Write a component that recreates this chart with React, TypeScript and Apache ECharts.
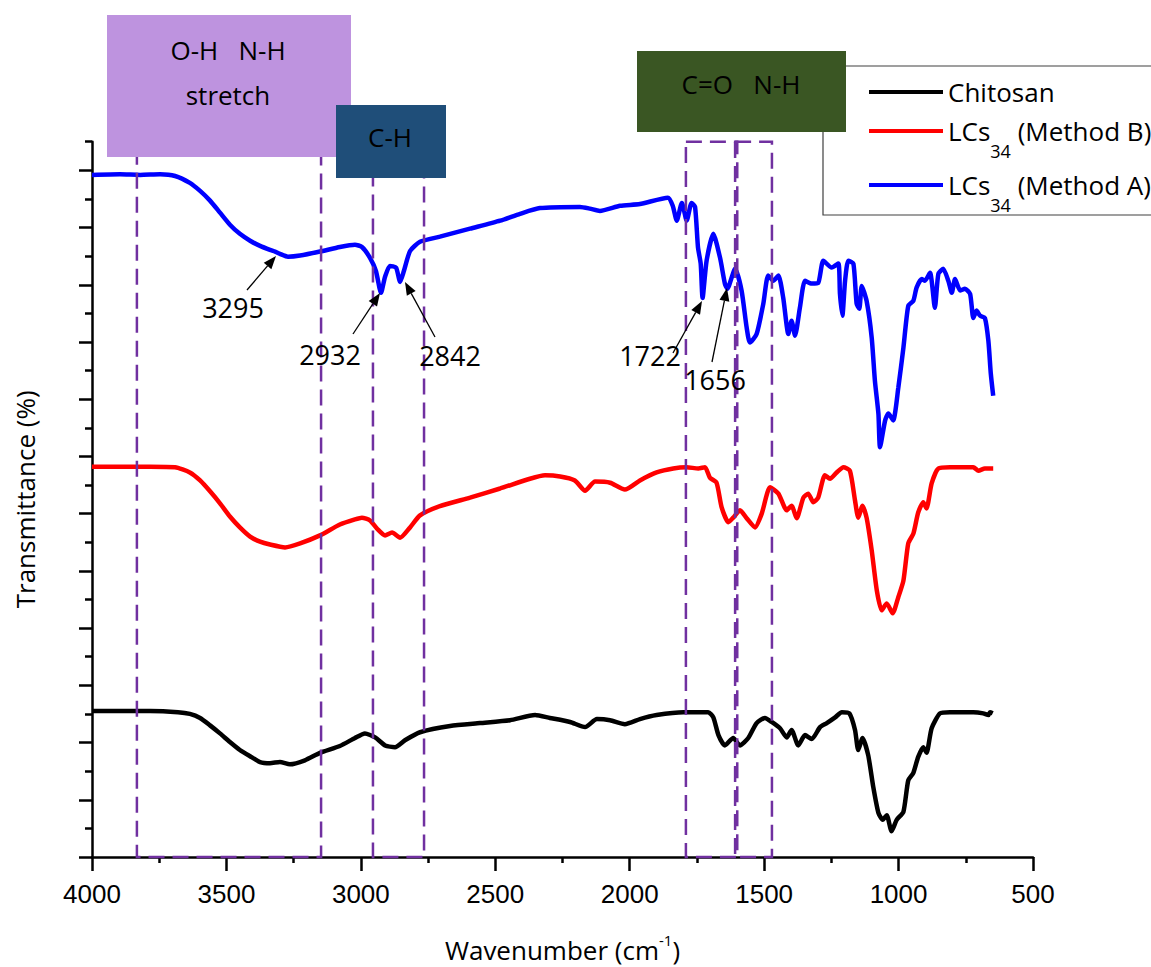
import React, { useEffect, useRef } from 'react';
import * as echarts from 'echarts';

// ---------------- DATA ----------------
const SERIES_NAMES = ['Chitosan', 'LCs34 (Method B)', 'LCs34 (Method A)'];
const SERIES_COLORS = ['#000000', '#FF0000', '#0000FF'];

// [wavenumber (cm-1), transmittance (offset units)]
const chitosan: [number, number][] = [
  [4000, 2.55], [3896, 2.55], [3784, 2.55], [3680, 2.53], [3636, 2.5], [3598, 2.43], [3561, 2.3], [3524, 2.16],
  [3487, 2.01], [3450, 1.87], [3412, 1.76], [3375, 1.66], [3338, 1.64], [3301, 1.66], [3264, 1.62], [3208, 1.69],
  [3152, 1.82], [3078, 1.94], [3022, 2.08], [2985, 2.16], [2947, 2.09], [2910, 1.95], [2873, 1.92], [2836, 2.04],
  [2780, 2.18], [2668, 2.29], [2557, 2.34], [2445, 2.39], [2352, 2.48], [2297, 2.43], [2222, 2.36], [2166, 2.27],
  [2122, 2.41], [2073, 2.39], [2018, 2.32], [1962, 2.41], [1900, 2.48], [1800, 2.53], [1708, 2.53], [1689, 2.44],
  [1670, 2.13], [1646, 1.95], [1615, 2.08], [1590, 1.95], [1559, 2.08], [1528, 2.34], [1497, 2.43], [1472, 2.36],
  [1441, 2.25], [1416, 2.09], [1398, 2.22], [1373, 1.95], [1348, 2.13], [1323, 2.06], [1292, 2.27], [1267, 2.34],
  [1236, 2.44], [1211, 2.53], [1183, 2.51], [1162, 2.22], [1150, 1.87], [1134, 2.08], [1113, 1.78], [1094, 1.22],
  [1075, 0.77], [1059, 0.65], [1044, 0.73], [1026, 0.45], [1007, 0.65], [982, 0.79], [964, 1.34], [945, 1.47],
  [927, 1.75], [908, 1.92], [896, 1.82], [877, 2.25], [846, 2.51], [809, 2.53], [722, 2.53], [685, 2.51],
  [666, 2.48], [660, 2.53], [650, 2.51],
];

const methodB: [number, number][] = [
  [4000, 6.82], [3896, 6.82], [3784, 6.82], [3691, 6.81], [3636, 6.72], [3598, 6.58], [3561, 6.39], [3524, 6.18],
  [3487, 5.95], [3450, 5.76], [3412, 5.6], [3375, 5.51], [3338, 5.46], [3282, 5.41], [3226, 5.48], [3152, 5.62],
  [3078, 5.81], [3022, 5.9], [2996, 5.93], [2966, 5.88], [2940, 5.74], [2910, 5.62], [2884, 5.67], [2854, 5.58],
  [2817, 5.76], [2780, 5.97], [2706, 6.13], [2594, 6.28], [2482, 6.44], [2371, 6.61], [2315, 6.67], [2259, 6.65],
  [2204, 6.58], [2166, 6.4], [2129, 6.56], [2073, 6.54], [2018, 6.42], [1962, 6.58], [1900, 6.72], [1838, 6.79],
  [1788, 6.81], [1745, 6.79], [1720, 6.81], [1702, 6.63], [1677, 6.54], [1658, 6.11], [1633, 5.85], [1615, 5.93],
  [1590, 6.06], [1565, 5.92], [1534, 5.76], [1509, 6.0], [1478, 6.46], [1447, 6.35], [1416, 6.06], [1398, 6.14],
  [1379, 5.92], [1354, 6.28], [1336, 6.35], [1317, 6.2], [1299, 6.28], [1274, 6.67], [1255, 6.61], [1230, 6.72],
  [1205, 6.81], [1181, 6.75], [1162, 6.23], [1150, 5.93], [1134, 6.14], [1119, 5.93], [1100, 5.36], [1081, 4.66],
  [1063, 4.31], [1044, 4.43], [1022, 4.26], [1001, 4.54], [982, 4.83], [964, 5.48], [945, 5.65], [927, 6.02],
  [908, 6.2], [896, 6.09], [877, 6.53], [852, 6.79], [809, 6.81], [722, 6.81], [703, 6.75], [679, 6.79], [648, 6.79],
];

const methodA: [number, number][] = [
  [4000, 11.92], [3896, 11.93], [3821, 11.92], [3747, 11.93], [3691, 11.9], [3636, 11.78], [3598, 11.64], [3561, 11.47],
  [3524, 11.26], [3487, 11.05], [3450, 10.89], [3412, 10.77], [3375, 10.68], [3338, 10.61], [3319, 10.58], [3301, 10.54],
  [3271, 10.49], [3226, 10.51], [3152, 10.58], [3078, 10.66], [3022, 10.7], [2996, 10.66], [2966, 10.47], [2944, 10.24],
  [2925, 9.86], [2910, 10.14], [2892, 10.33], [2869, 10.3], [2854, 10.05], [2840, 10.24], [2817, 10.59], [2780, 10.75],
  [2706, 10.84], [2594, 10.98], [2482, 11.12], [2408, 11.24], [2334, 11.34], [2185, 11.36], [2148, 11.33], [2111, 11.29],
  [2036, 11.38], [1962, 11.41], [1858, 11.52], [1840, 11.38], [1825, 11.12], [1806, 11.43], [1788, 11.12], [1770, 11.43],
  [1757, 11.36], [1746, 10.65], [1736, 10.37], [1729, 9.77], [1714, 10.42], [1689, 10.89], [1664, 10.47], [1646, 10.02],
  [1637, 9.93], [1608, 10.28], [1584, 9.9], [1565, 9.25], [1553, 8.99], [1528, 9.14], [1503, 9.67], [1485, 10.16],
  [1466, 10.07], [1447, 10.16], [1429, 9.77], [1410, 9.14], [1398, 9.37], [1385, 9.11], [1367, 9.6], [1348, 10.07],
  [1323, 10.02], [1299, 10.03], [1280, 10.42], [1249, 10.3], [1224, 10.37], [1218, 9.84], [1209, 9.46], [1199, 10.07],
  [1187, 10.42], [1168, 10.37], [1156, 9.67], [1146, 9.58], [1137, 9.98], [1119, 9.72], [1100, 9.08], [1088, 8.32],
  [1075, 7.75], [1069, 7.16], [1050, 7.63], [1038, 7.75], [1020, 7.63], [1001, 8.2], [982, 8.9], [964, 9.63],
  [945, 9.72], [933, 9.95], [914, 10.1], [902, 10.07], [883, 10.21], [865, 9.6], [852, 10.19], [834, 10.28],
  [815, 10.07], [802, 9.86], [790, 10.1], [771, 9.9], [753, 9.93], [734, 9.84], [722, 9.42], [710, 9.55],
  [697, 9.46], [679, 9.42], [666, 9.02], [657, 8.45], [648, 8.06],
];

const yMajorTicks = [0, 1, 2, 3, 4, 5, 6, 7, 8, 9, 10, 11, 12];
const yMinorTicks = [0.5, 1.5, 2.5, 3.5, 4.5, 5.5, 6.5, 7.5, 8.5, 9.5, 10.5, 11.5, 12.5];

// dashed band rectangles: [from wavenumber, to wavenumber, top value]
const bands: [number, number, number][] = [
  [3833, 3148, 12.5],
  [2955, 2765, 12.5],
  [1791, 1600, 12.5],
  [1608, 1471, 12.5],
];

const bandTitles = ['O-H   N-H', 'stretch', 'C-H', 'C=O   N-H'];
const peakLabels = ['3295', '2932', '2842', '1722', '1656'];

// ---------------- LAYOUT ----------------
const FONT = '"Open Sans", sans-serif';
const legendTops = [79, 114, 168];

const peakLayout = [
  { tx: 233, ty: 307, from: [247, 290], to: [276, 256] },
  { tx: 330, ty: 354, from: [353, 334], to: [380, 293] },
  { tx: 450, ty: 355, from: [435, 337], to: [405, 282] },
  { tx: 650, ty: 355, from: [673, 353], to: [702, 301] },
  { tx: 715, ty: 379, from: [712, 362], to: [727, 288] },
];

function arrow(x1: number, y1: number, x2: number, y2: number) {
  const dx = x2 - x1, dy = y2 - y1;
  const L = Math.hypot(dx, dy);
  const ux = dx / L, uy = dy / L;
  const hl = 13, hw = 5;
  const bx = x2 - ux * hl, by = y2 - uy * hl;
  return [
    { type: 'line', z: 60, shape: { x1, y1, x2: bx, y2: by }, style: { stroke: '#000', lineWidth: 1.3 } },
    {
      type: 'polygon', z: 60,
      shape: { points: [[x2, y2], [bx - uy * hw, by + ux * hw], [bx + uy * hw, by - ux * hw]] },
      style: { fill: '#000' },
    },
  ];
}

function textEl(text: string, x: number, y: number, size = 26) {
  return {
    type: 'text', z: 61, x, y,
    style: { text, fontSize: size, fontFamily: FONT, fill: '#000', align: 'center', verticalAlign: 'middle' },
  };
}

export default function App() {
  const ref = useRef<HTMLDivElement>(null);
  useEffect(() => {
    if (!ref.current) return;
    const chart = echarts.init(ref.current, undefined, { renderer: 'svg' });

    const seriesData = [chitosan, methodB, methodA];
    const lineSeries = SERIES_NAMES.map((name, i) => ({
      type: 'line',
      name,
      data: seriesData[i],
      showSymbol: false,
      smooth: 0.2,
      z: 3,
      itemStyle: { color: SERIES_COLORS[i] },
      lineStyle: { color: SERIES_COLORS[i], width: 4.5 },
    }));

    const graphics: any[] = [
      { type: 'rect', z: 50, shape: { x: 823, y: 66, width: 400, height: 149 }, style: { fill: 'none', stroke: '#404040', lineWidth: 1.2 } },
      { type: 'rect', z: 55, shape: { x: 107, y: 15, width: 244, height: 142 }, style: { fill: '#BE93DF' } },
      { type: 'rect', z: 56, shape: { x: 336, y: 105, width: 110, height: 73 }, style: { fill: '#1F4E79' } },
      { type: 'rect', z: 56, shape: { x: 637, y: 51, width: 209, height: 81 }, style: { fill: '#3A5623' } },
      textEl(bandTitles[0], 228, 50),
      textEl(bandTitles[1], 228, 95),
      textEl(bandTitles[2], 390, 137),
      textEl(bandTitles[3], 741, 84),
    ];
    peakLayout.forEach((p, i) => {
      graphics.push(textEl(peakLabels[i], p.tx, p.ty, 27));
      graphics.push(...arrow(p.from[0], p.from[1], p.to[0], p.to[1]));
    });

    const legendRich = {
      sub: { fontSize: 18, fontFamily: FONT, color: '#000', lineHeight: 58, padding: [28, 0, 0, 0], verticalAlign: 'bottom' },
    };

    chart.setOption({
      animation: false,
      backgroundColor: '#fff',
      grid: { left: 92, right: 118, top: 141.7, bottom: 110, containLabel: false, outerBoundsMode: 'none' },
      xAxis: {
        type: 'value',
        inverse: true,
        min: 500,
        max: 4000,
        interval: 500,
        name: 'Wavenumber (cm{sup|-1})',
        nameLocation: 'middle',
        nameGap: 75,
        nameTextStyle: {
          fontFamily: FONT, fontSize: 26, color: '#000', lineHeight: 36,
          rich: { sup: { fontFamily: FONT, fontSize: 15, color: '#000', verticalAlign: 'top' } },
        },
        axisLine: { show: true, onZero: false, lineStyle: { color: '#000', width: 2.5 } },
        axisTick: { show: true, length: 14, lineStyle: { color: '#000', width: 2.5 } },
        minorTick: { show: true, splitNumber: 2, length: 6, lineStyle: { color: '#000', width: 2.5 } },
        axisLabel: {
          color: '#000', fontFamily: 'Liberation Sans', fontSize: 26, margin: 24,
          formatter: (v: number) => String(v),
        },
        splitLine: { show: false },
      },
      yAxis: [
        {
          type: 'value',
          min: 0,
          max: 12.5,
          interval: 1,
          name: 'Transmittance (%)',
          nameLocation: 'middle',
          nameGap: 54,
          nameTextStyle: { fontFamily: FONT, fontSize: 26, color: '#000' },
          axisLine: { show: true, onZero: false, lineStyle: { color: '#000', width: 2.5 } },
          axisTick: { show: true, length: 13, customValues: yMajorTicks, lineStyle: { color: '#000', width: 2.5 } },
          axisLabel: { show: false },
          splitLine: { show: false },
        },
        {
          type: 'value',
          min: 0,
          max: 12.5,
          interval: 1,
          position: 'left',
          axisLine: { show: false },
          axisTick: { show: true, length: 7, customValues: yMinorTicks, lineStyle: { color: '#000', width: 2.5 } },
          axisLabel: { show: false },
          splitLine: { show: false },
        },
      ],
      legend: SERIES_NAMES.map((name, i) => ({
        data: [name],
        left: 869,
        top: legendTops[i],
        orient: 'vertical',
        icon: 'rect',
        itemWidth: 74,
        itemHeight: 4,
        padding: 0,
        selectedMode: false,
        formatter: (n: string) => n.replace('LCs34', 'LCs{sub|34}'),
        textStyle: { fontFamily: FONT, fontSize: 26, color: '#000', rich: legendRich },
      })),
      series: [
        ...lineSeries,
        {
          type: 'line',
          name: '_bands',
          data: [],
          z: 5,
          markArea: {
            silent: true,
            z: 5,
            itemStyle: { color: 'rgba(0,0,0,0)', borderColor: '#7030A0', borderWidth: 2.5, borderType: [16, 8] },
            data: bands.map(([a, b, t]) => [{ xAxis: a, yAxis: t }, { xAxis: b, yAxis: 0 }]),
          },
        },
      ],
      graphic: { elements: graphics },
    });
    return () => chart.dispose();
  }, []);

  return <div ref={ref} style={{ position: 'absolute', left: 0, top: 0, width: 1151, height: 967 }} />;
}
